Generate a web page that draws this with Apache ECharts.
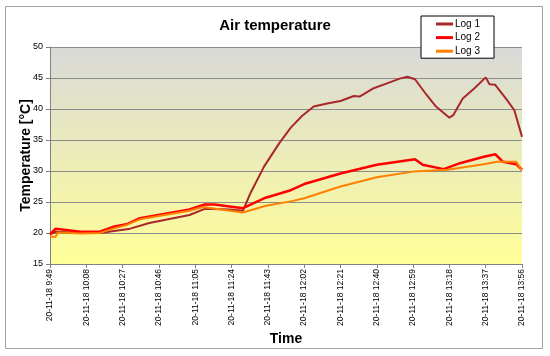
<!DOCTYPE html>
<html><head><meta charset="utf-8">
<script src="https://cdn.jsdelivr.net/npm/echarts@6/dist/echarts.min.js"></script>
<style>html,body{margin:0;padding:0;background:#fff}#c{width:550px;height:356px}</style>
</head><body><div id="c"></div>
<script>
// minutes since 20-11-18 9:49
const tickLabels = ["20-11-18 9:49","20-11-18 10:08","20-11-18 10:27","20-11-18 10:46","20-11-18 11:05","20-11-18 11:24","20-11-18 11:43","20-11-18 12:02","20-11-18 12:21","20-11-18 12:40","20-11-18 12:59","20-11-18 13:18","20-11-18 13:37","20-11-18 13:56"];
const seriesNames = ["Log 1","Log 2","Log 3"];
const log1Min = [0, 3, 16, 26, 42, 52, 73, 81, 94, 101, 105, 112, 120, 126, 132, 138, 145, 152, 159, 162, 169, 176, 183, 187, 191, 197, 202, 209, 211, 216, 222, 228, 230, 233, 239, 243, 247];
const log1Val = [19.8, 20.2, 20.0, 20.0, 20.7, 21.6, 22.9, 23.9, 23.8, 23.6, 26.5, 30.7, 34.5, 37.0, 38.9, 40.4, 40.9, 41.3, 42.1, 42.0, 43.3, 44.1, 44.9, 45.2, 44.8, 42.3, 40.4, 38.6, 39.0, 41.7, 43.3, 45.1, 44.0, 43.9, 41.5, 39.8, 35.5];
const log2Min = [0, 3, 16, 26, 33, 40, 47, 73, 81, 86, 101, 112, 126, 133, 152, 171, 191, 195, 206, 215, 227, 233, 237, 244, 247];
const log2Val = [19.8, 20.7, 20.2, 20.2, 21.0, 21.4, 22.4, 23.8, 24.6, 24.6, 24.0, 25.6, 26.9, 27.9, 29.6, 31.0, 31.9, 31.0, 30.3, 31.3, 32.3, 32.7, 31.5, 31.1, 30.2];
const log3Min = [0, 3, 4, 16, 26, 33, 40, 47, 73, 80, 101, 113, 126, 133, 152, 171, 190, 208, 227, 234, 244, 247];
const log3Val = [19.4, 19.4, 20.1, 19.9, 20.0, 20.7, 21.3, 22.2, 23.6, 24.2, 23.3, 24.4, 25.1, 25.6, 27.5, 29.0, 29.9, 30.2, 31.1, 31.5, 31.5, 30.1];

const zip = (a, b) => a.map((m, i) => [m, b[i]]);
const font = "Liberation Sans, Arial, sans-serif";
const chart = echarts.init(document.getElementById('c'), null, {renderer: 'canvas'});
const colors = ['#a8272a', '#ff0000', '#ff8000'];
const widths = [2, 2.5, 2];
const data = [zip(log1Min, log1Val), zip(log2Min, log2Val), zip(log3Min, log3Val)];
chart.setOption({
  animation: false,
  backgroundColor: '#fff',
  graphic: [{type: 'rect', shape: {x: 5.5, y: 6.5, width: 537, height: 342}, style: {fill: 'none', stroke: '#a0a0a0', lineWidth: 1}, z: -1}],
  title: {text: 'Air temperature', left: 'center', top: 13, textStyle: {fontFamily: font, fontSize: 15, fontWeight: 'bold', color: '#000'}},
  legend: {
    orient: 'vertical', left: 421, top: 16,
    data: seriesNames, icon: 'rect', itemWidth: 17, itemHeight: 3, itemGap: 1.6,
    padding: [2, 14, 1, 15], borderColor: '#000', borderWidth: 1, backgroundColor: '#fff',
    textStyle: {fontFamily: font, fontSize: 10, color: '#000', lineHeight: 12, padding: [0,0,0,-3]}
  },
  grid: {left: 50, right: 28, top: 47, bottom: 92, show: true, borderWidth: 0,
    backgroundColor: new echarts.graphic.LinearGradient(0, 0, 0, 1, [{offset: 0, color: '#d9d9d9'}, {offset: 1, color: '#ffff99'}])},
  xAxis: {
    type: 'value', min: 0, max: 247, interval: 19,
    name: 'Time', nameLocation: 'middle', nameGap: 68, nameMoveOverlap: false,
    nameTextStyle: {fontFamily: font, fontSize: 14, fontWeight: 'bold', color: '#000'},
    axisLine: {show: true, lineStyle: {color: '#808080'}},
    axisTick: {show: true, length: 4, lineStyle: {color: '#808080'}},
    splitLine: {show: false},
    axisLabel: {rotate: 90, fontFamily: font, fontSize: 8.5, color: '#000', margin: 5,
      formatter: v => tickLabels[Math.round(v / 19)] || ''}
  },
  yAxis: {
    type: 'value', min: 15, max: 50, interval: 5,
    name: 'Temperature [°C]', nameLocation: 'middle', nameGap: 17, nameMoveOverlap: false,
    nameTextStyle: {fontFamily: font, fontSize: 14, fontWeight: 'bold', color: '#000'},
    axisLine: {show: true, lineStyle: {color: '#808080'}},
    axisTick: {show: true, length: 4, lineStyle: {color: '#808080'}},
    splitLine: {show: true, lineStyle: {color: '#8c8c8c', width: 1}},
    axisLabel: {fontFamily: font, fontSize: 9, color: '#000', margin: 7}
  },
  series: seriesNames.map((n, i) => ({
    name: n, type: 'line', data: data[i], showSymbol: false, symbol: 'none',
    lineStyle: {color: colors[i], width: widths[i]}, itemStyle: {color: colors[i]}
  }))
});
</script></body></html>
